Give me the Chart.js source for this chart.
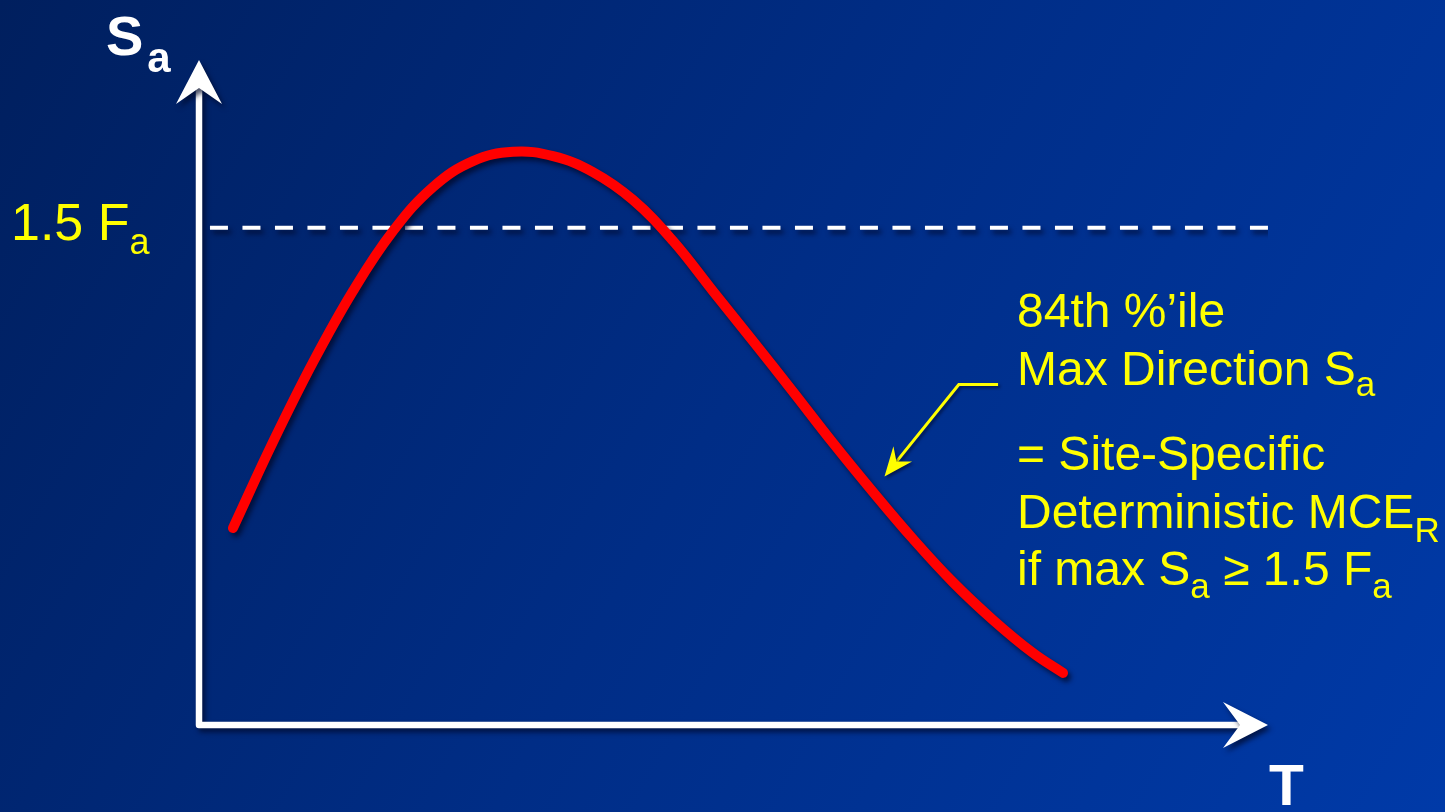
<!DOCTYPE html>
<html>
<head>
<meta charset="utf-8">
<script src="https://cdn.jsdelivr.net/npm/chart.js@4.4.1/dist/chart.umd.min.js"></script>
<style>
  html, body { margin: 0; padding: 0; background: #002a7a; overflow: hidden; }
  canvas { display: block; }
</style>
</head>
<body>
<canvas id="spectrum" width="1445" height="812"></canvas>
<script>
// Period T (s) and spectral acceleration Sa (g) of the 84th percentile max-direction spectrum
const PERIOD_T = [0.127, 0.277, 0.427, 0.576, 0.726, 0.876, 1.025, 1.175, 1.325, 1.474, 1.624,
                  1.774, 1.923, 2.073, 2.223, 2.372, 2.522, 2.672, 2.821, 2.971, 3.121, 3.233];
const SPECTRAL_SA = [0.594, 0.854, 1.095, 1.309, 1.490, 1.623, 1.701, 1.729, 1.716, 1.668, 1.584,
                     1.460, 1.309, 1.158, 1.005, 0.851, 0.703, 0.561, 0.431, 0.317, 0.217, 0.157];

// Threshold level 1.5 Fa drawn across the period range
const THRESHOLD_T = [0.041, 4.0];
const THRESHOLD_SA = [1.5, 1.5];

// Axis ranges
const T_RANGE = [0, 4];
const SA_RANGE = [0, 2];

// Pointer from the note to the curve: [start, bend, tip] in (T, Sa)
const POINTER_T = [2.99, 2.843, 2.565];
const POINTER_SA = [1.027, 1.027, 0.750];

const FONT = "'Liberation Sans', Arial, sans-serif";
const YELLOW = '#ffff00';

function richText(ctx, x, y, parts, size, subSize, weight, color) {
  ctx.fillStyle = color;
  ctx.textBaseline = 'alphabetic';
  ctx.textAlign = 'left';
  let cx = x;
  for (const p of parts) {
    const s = p.sub ? subSize : size;
    ctx.font = weight + ' ' + s + 'px ' + FONT;
    cx += p.gap || 0;
    ctx.fillText(p.t, cx, y + (p.sub ? p.drop : 0));
    cx += ctx.measureText(p.t).width;
  }
}

const decor = {
  id: 'decor',
  beforeDraw(chart) {
    const { ctx, width, height } = chart;
    const g = ctx.createLinearGradient(0, 0, width, height);
    g.addColorStop(0, '#001f5e');
    g.addColorStop(0.5, '#002d86');
    g.addColorStop(1, '#003aa8');
    ctx.save();
    ctx.fillStyle = g;
    ctx.fillRect(0, 0, width, height);
    ctx.restore();
  },
  beforeDatasetsDraw(chart) {
    const { ctx } = chart;
    ctx.save();
    ctx.shadowColor = 'rgba(0, 8, 40, 0.75)';
    ctx.shadowBlur = 5;
    ctx.shadowOffsetX = 3;
    ctx.shadowOffsetY = 4;
  },
  afterDatasetsDraw(chart) {
    const { ctx, scales, chartArea } = chart;
    ctx.restore();

    const x0 = scales.x.getPixelForValue(T_RANGE[0]);
    const xEnd = scales.x.getPixelForValue(T_RANGE[1]);
    const y0 = scales.y.getPixelForValue(SA_RANGE[0]);
    const yTop = chartArea.top - 2;

    // Axes with arrowheads
    ctx.save();
    ctx.shadowColor = 'rgba(0, 8, 40, 0.7)';
    ctx.shadowBlur = 5;
    ctx.shadowOffsetX = 3;
    ctx.shadowOffsetY = 4;
    ctx.strokeStyle = '#ffffff';
    ctx.fillStyle = '#ffffff';
    ctx.lineWidth = 6.5;
    ctx.lineJoin = 'round';
    ctx.lineCap = 'butt';
    ctx.beginPath();
    ctx.moveTo(x0, yTop + 28);
    ctx.lineTo(x0, y0);
    ctx.lineTo(xEnd - 28, y0);
    ctx.stroke();

    ctx.beginPath();
    ctx.moveTo(x0, yTop);
    ctx.lineTo(x0 + 23, yTop + 44);
    ctx.lineTo(x0, yTop + 28);
    ctx.lineTo(x0 - 23, yTop + 44);
    ctx.closePath();
    ctx.fill();

    ctx.beginPath();
    ctx.moveTo(xEnd, y0);
    ctx.lineTo(xEnd - 45, y0 + 23);
    ctx.lineTo(xEnd - 28, y0);
    ctx.lineTo(xEnd - 45, y0 - 23);
    ctx.closePath();
    ctx.fill();
    ctx.restore();

    // Pointer arrow
    const px = POINTER_T.map(v => scales.x.getPixelForValue(v));
    const py = POINTER_SA.map(v => scales.y.getPixelForValue(v));
    ctx.save();
    ctx.shadowColor = 'rgba(0, 8, 40, 0.6)';
    ctx.shadowBlur = 3;
    ctx.shadowOffsetX = 2;
    ctx.shadowOffsetY = 2;
    ctx.strokeStyle = YELLOW;
    ctx.fillStyle = YELLOW;
    ctx.lineWidth = 3;
    ctx.lineJoin = 'miter';
    const tx = px[2], ty = py[2];
    const dx = tx - px[1], dy = ty - py[1];
    const len = Math.hypot(dx, dy);
    const ux = dx / len, uy = dy / len;
    const nx = -uy, ny = ux;
    const headLen = 29, notch = 19, half = 12;
    ctx.beginPath();
    ctx.moveTo(px[0], py[0]);
    ctx.lineTo(px[1], py[1]);
    ctx.lineTo(tx - ux * notch, ty - uy * notch);
    ctx.stroke();
    ctx.beginPath();
    ctx.moveTo(tx, ty);
    ctx.lineTo(tx - ux * headLen + nx * half, ty - uy * headLen + ny * half);
    ctx.lineTo(tx - ux * notch, ty - uy * notch);
    ctx.lineTo(tx - ux * headLen - nx * half, ty - uy * headLen - ny * half);
    ctx.closePath();
    ctx.fill();
    ctx.restore();
  },
  afterDraw(chart) {
    const { ctx, scales } = chart;
    ctx.save();
    // Axis titles
    richText(ctx, 106, 55, [{ t: 'S' }, { t: 'a', sub: true, drop: 17, gap: 4 }], 56, 42, 'bold', '#ffffff');
    richText(ctx, 1269, 805, [{ t: 'T' }], 57, 40, 'bold', '#ffffff');

    // Threshold label
    const yLevel = scales.y.getPixelForValue(THRESHOLD_SA[0]);
    richText(ctx, 11, yLevel + 12, [{ t: '1.5 F' }, { t: 'a', sub: true, drop: 14 }], 52, 36, 'normal', YELLOW);

    // Note text
    const nx = 1017, size = 48, sub = 35;
    richText(ctx, nx, 327, [{ t: '84th %\u2019ile' }], size, sub, 'normal', YELLOW);
    richText(ctx, nx, 385, [{ t: 'Max Direction S' }, { t: 'a', sub: true, drop: 11 }], size, sub, 'normal', YELLOW);
    richText(ctx, nx, 470, [{ t: '= Site-Specific' }], size, sub, 'normal', YELLOW);
    richText(ctx, nx, 528, [{ t: 'Deterministic MCE' }, { t: 'R', sub: true, drop: 14 }], size, sub, 'normal', YELLOW);
    richText(ctx, nx, 585, [{ t: 'if max S' }, { t: 'a', sub: true, drop: 13 }, { t: ' \u2265 1.5 F' }, { t: 'a', sub: true, drop: 13 }], size, sub, 'normal', YELLOW);
    ctx.restore();
  }
};

new Chart(document.getElementById('spectrum'), {
  type: 'line',
  data: {
    datasets: [
      {
        label: '84th percentile max direction Sa',
        data: PERIOD_T.map((t, i) => ({ x: t, y: SPECTRAL_SA[i] })),
        borderColor: '#ff0000',
        borderWidth: 10,
        borderCapStyle: 'round',
        borderJoinStyle: 'round',
        tension: 0.4,
        pointRadius: 0,
        fill: false
      },
      {
        label: '1.5 Fa',
        data: THRESHOLD_T.map((t, i) => ({ x: t, y: THRESHOLD_SA[i] })),
        borderColor: '#ffffff',
        borderWidth: 4,
        borderDash: [18, 14.5],
        pointRadius: 0,
        tension: 0,
        fill: false
      }
    ]
  },
  options: {
    responsive: false,
    devicePixelRatio: 1,
    animation: false,
    layout: { padding: { left: 199, right: 177, top: 62, bottom: 87 } },
    plugins: { legend: { display: false }, tooltip: { enabled: false } },
    scales: {
      x: { type: 'linear', display: false, min: T_RANGE[0], max: T_RANGE[1] },
      y: { type: 'linear', display: false, min: SA_RANGE[0], max: SA_RANGE[1] }
    }
  },
  plugins: [decor]
});
</script>
</body>
</html>
